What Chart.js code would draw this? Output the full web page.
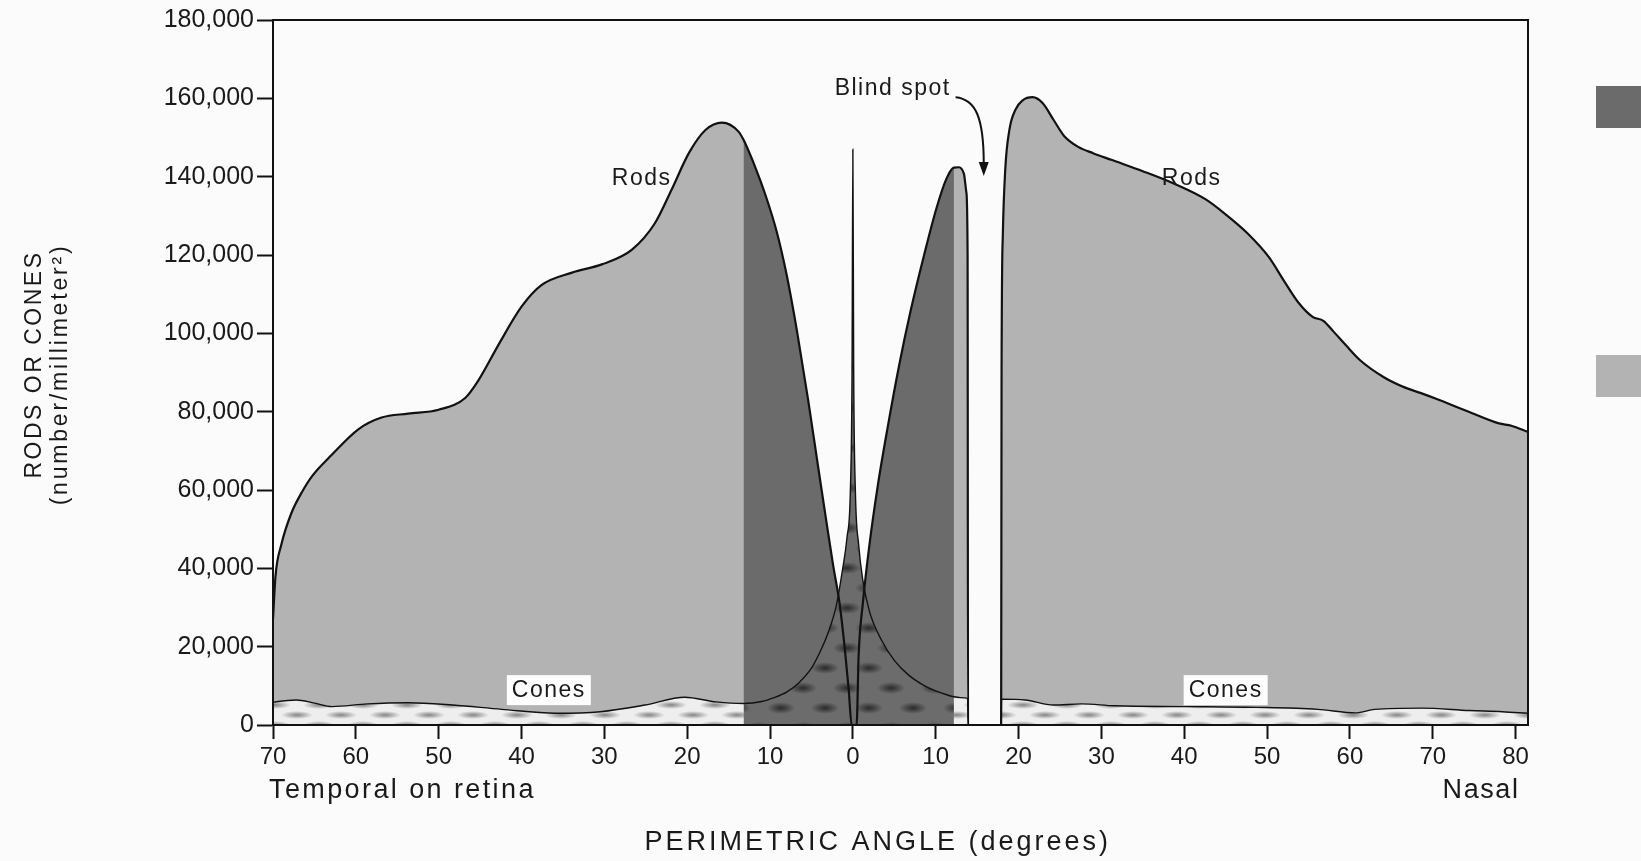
<!DOCTYPE html>
<html>
<head>
<meta charset="utf-8">
<script src="https://cdn.jsdelivr.net/npm/chart.js@4.4.1/dist/chart.umd.min.js"></script>
<style>
  html, body { margin: 0; padding: 0; background: #fbfbfb; }
  canvas { display: block; }
</style>
</head>
<body>
<canvas id="retina" width="1641" height="861"></canvas>
<script>
// perimetric angle in degrees: negative = temporal, positive = nasal
const rodAngles = [
  -70, -69.7, -69, -67.8, -66.5, -65.3, -62.9, -59.7, -56.9, -53.7, -50, -46.8, -45.2, -42.8,
  -40, -37.6, -33.9, -30.3, -26.7, -23.9, -21.9, -19.8, -17.8, -15.8, -13.8, -13.2, -11.8,
  -10.5, -9.2, -8, -6.7, -5.4, -4.2, -3.2, -2.4, -1.6, -1, -0.5, -0.15,
  0.45, 0.7, 1.2, 2, 3, 4.2, 5.6, 7, 8.6, 10.1, 11.3, 12.2, 12.8, 13.4, 13.7, 13.85, 13.9,
  17.9, 17.95, 18.1, 18.4, 18.9, 19.6, 20.5, 21.7, 22.9, 24.2, 25.5, 27.2, 29, 31.2, 35,
  38.8, 42.6, 45.1, 47.6, 50.2, 52.1, 53.8, 55.5, 56.8, 58, 59.5, 61.2, 64.1, 66.6, 68.5,
  70.4, 74.2, 78, 79.5, 81.5
];
const rodDensity = [
  27000, 38000, 46000, 54000, 59500, 63500, 69000, 75500, 78500, 79500, 80500, 83500, 88000, 97000,
  106800, 112300, 115500, 117600, 121300, 128100, 136600, 146000, 151900, 153800, 151500, 149400, 142500,
  135000, 126000, 115000, 100000, 83000, 66000, 52000, 41000, 31000, 20000, 9000, 0,
  0, 18000, 31000, 46000, 61000, 76000, 92000, 106000, 120000, 132000, 139500, 142300, 142400, 140800, 136000, 120000, 0,
  0, 90000, 125000, 142000, 152000, 157000, 159500, 160300, 158800, 154600, 150400, 147600, 146000, 144300, 141400,
  138200, 134200, 130200, 125600, 119500, 113200, 107800, 104200, 103200, 100500, 97000, 93200, 88800, 86200, 84800,
  83300, 80100, 77000, 76400, 74800
];

const coneAngles = [
  -70, -69.6, -67.2, -65, -62.9, -58.6, -53.7, -48.3, -42.4, -35.9, -30.5, -25.1, -20.3, -16.5,
  -13.2, -11, -9.5, -8, -6.5, -5, -4, -3, -2, -1.3, -0.7, -0.3, -0.1, 0, 0.1, 0.3, 0.7, 1.2,
  2, 3.5, 5, 6.7, 8.5, 10, 11.5, 12.2, 13, 13.85, 13.9,
  17.9, 17.95, 20.8, 24.2, 27.6, 31.6, 40.2, 48.7, 56.1, 60.7, 63, 68.7, 74.4, 78.4, 81.5
];
const coneDensity = [
  5800, 5950, 6400, 5600, 4700, 5400, 5700, 5100, 4000, 3000, 3400, 5100, 7100, 5900,
  5500, 6000, 7000, 8400, 10800, 14500, 18500, 23500, 30500, 39000, 48000, 60000, 90000, 147000, 90000, 60000, 46000, 37000,
  29000, 21500, 16500, 12800, 10200, 8700, 7600, 7200, 7000, 6800, 0,
  0, 6600, 6400, 5100, 5400, 4900, 4700, 4500, 4000, 3100, 4000, 4300, 3700, 3400, 3000
];

const xTickValues = [-70, -60, -50, -40, -30, -20, -10, 0, 10, 20, 30, 40, 50, 60, 70, 80];
const yTickStep = 20000;
const darkBand = [-13.2, 12.2];

const fam = "'Liberation Sans', Arial, Helvetica, sans-serif";
Chart.defaults.font.family = fam;

const canvas = document.getElementById('retina');
const ctx = canvas.getContext('2d');

function blobPattern(w, h, bg, rgb, blobs, rx, ry) {
  const c = document.createElement('canvas');
  c.width = w; c.height = h;
  const g = c.getContext('2d');
  g.fillStyle = bg;
  g.fillRect(0, 0, w, h);
  for (const [cx, cy] of blobs) {
    for (const dx of [-w, 0, w]) {
      for (const dy of [-h, 0, h]) {
        g.save();
        g.translate(cx + dx, cy + dy);
        g.scale(rx / ry, 1);
        const grd = g.createRadialGradient(0, 0, 0, 0, 0, ry);
        grd.addColorStop(0, `rgba(${rgb},0.9)`);
        grd.addColorStop(1, `rgba(${rgb},0)`);
        g.fillStyle = grd;
        g.beginPath();
        g.arc(0, 0, ry, 0, Math.PI * 2);
        g.fill();
        g.restore();
      }
    }
  }
  return ctx.createPattern(c, 'repeat');
}

const lightCones = blobPattern(44, 20, '#eeeeee', '120,120,120', [[11, 5], [33, 15]], 16, 4);
const darkCones = blobPattern(44, 40, '#6c6c6c', '35,35,35', [[11, 8], [33, 28]], 14, 6);

const toPoints = (xs, ys) => xs.map((x, i) => ({ x: x, y: ys[i] }));
const inBand = p => p.x >= darkBand[0] && p.x <= darkBand[1];
const rodPts = toPoints(rodAngles, rodDensity);
const conePts = toPoints(coneAngles, coneDensity);

const clear = 'rgba(0,0,0,0)';

function label(c, text, px, py, size, spacing, align) {
  c.font = size + 'px ' + fam;
  c.letterSpacing = spacing + 'px';
  c.textAlign = align || 'center';
  c.textBaseline = 'middle';
  c.fillStyle = '#1a1a1a';
  c.fillText(text, px, py);
}

const decorations = {
  id: 'decorations',
  afterDraw(chart) {
    const { ctx: c, chartArea: a, scales: { x, y } } = chart;
    c.save();
    c.strokeStyle = '#111';
    c.lineWidth = 2;
    c.strokeRect(a.left, a.top, a.right - a.left, a.bottom - a.top);

    label(c, 'Rods', x.getPixelForValue(-25.5), y.getPixelForValue(139600), 23, 1.5);
    label(c, 'Rods', x.getPixelForValue(40.9), y.getPixelForValue(139600), 23, 1.5);
    label(c, 'Blind spot', x.getPixelForValue(4.8), y.getPixelForValue(162400), 23, 1.5);

    // arrow to blind spot
    const sx = x.getPixelForValue(12.4), sy = y.getPixelForValue(160300);
    const tx = x.getPixelForValue(15.8), ty = y.getPixelForValue(140200);
    c.beginPath();
    c.moveTo(sx, sy);
    c.bezierCurveTo(sx + 20, sy + 2, tx, sy + 20, tx, ty - 12);
    c.lineWidth = 2;
    c.stroke();
    c.beginPath();
    c.moveTo(tx, ty);
    c.lineTo(tx - 5, ty - 14);
    c.lineTo(tx + 5, ty - 14);
    c.closePath();
    c.fillStyle = '#111';
    c.fill();

    for (const cx of [-36.7, 45]) {
      const px = x.getPixelForValue(cx), py = y.getPixelForValue(8900);
      c.fillStyle = '#fdfdfd';
      c.fillRect(px - 42, py - 15, 84, 30);
      label(c, 'Cones', px, py + 1, 23, 1.5);
    }

    label(c, 'Temporal on retina', a.left - 4, a.bottom + 66, 27, 2.4, 'left');
    label(c, 'Nasal', x.getPixelForValue(80) + 4, a.bottom + 66, 27, 1.6, 'right');
    label(c, 'PERIMETRIC ANGLE (degrees)', x.getPixelForValue(3), a.bottom + 118, 27, 3);

    const midY = (a.top + a.bottom) / 2;
    c.save();
    c.translate(35, midY - 8);
    c.rotate(-Math.PI / 2);
    label(c, 'RODS OR CONES', 0, 0, 23, 2.5);
    c.restore();
    c.save();
    c.translate(61, midY + 2);
    c.rotate(-Math.PI / 2);
    label(c, '(number/millimeter\u00B2)', 0, 0, 23, 2.8);
    c.restore();

    // key squares at the right edge
    c.fillStyle = '#6b6b6b';
    c.fillRect(1596, 86, 45, 42);
    c.fillStyle = '#b3b3b3';
    c.fillRect(1596, 355, 45, 42);
    c.letterSpacing = '0px';
    c.restore();
  }
};

new Chart(ctx, {
  type: 'line',
  data: {
    datasets: [
      { label: 'Rods', data: rodPts, borderColor: '#111', borderWidth: 2.2, fill: false, order: 0 },
      { label: 'Cones', data: conePts, borderColor: '#111', borderWidth: 1.4, fill: false, order: 0 },
      { label: 'Cones central', data: conePts.filter(inBand), borderColor: clear, borderWidth: 1, backgroundColor: darkCones, fill: 'origin', order: 1 },
      { label: 'Cones peripheral', data: conePts, borderColor: clear, borderWidth: 1, backgroundColor: lightCones, fill: 'origin', order: 2 },
      { label: 'Rods central', data: rodPts.filter(inBand), borderColor: clear, borderWidth: 1, backgroundColor: '#6b6b6b', fill: 'origin', order: 3 },
      { label: 'Rods peripheral', data: rodPts, borderColor: clear, borderWidth: 1, backgroundColor: '#b3b3b3', fill: 'origin', order: 4 }
    ]
  },
  options: {
    responsive: false,
    animation: false,
    events: [],
    elements: {
      point: { radius: 0 },
      line: { cubicInterpolationMode: 'monotone' }
    },
    layout: { padding: { left: 0, top: 20, right: 113, bottom: 0 } },
    plugins: {
      legend: { display: false },
      tooltip: { enabled: false }
    },
    scales: {
      x: {
        type: 'linear',
        min: -70,
        max: 81.5,
        afterBuildTicks: s => { s.ticks = xTickValues.map(v => ({ value: v })); },
        afterFit: s => { s.height = 136; },
        ticks: {
          callback: v => Math.abs(v),
          color: '#1a1a1a',
          font: { size: 24 },
          padding: 4,
          maxRotation: 0,
          autoSkip: false
        },
        grid: { drawOnChartArea: false, drawTicks: true, tickLength: 14, tickWidth: 2, tickColor: '#111' },
        border: { display: true, color: '#111', width: 2 }
      },
      y: {
        min: 0,
        max: 180000,
        afterFit: s => { s.width = 273; },
        ticks: {
          stepSize: yTickStep,
          callback: v => v.toLocaleString('en-US'),
          color: '#1a1a1a',
          font: { size: 25 },
          padding: 3
        },
        grid: { drawOnChartArea: false, drawTicks: true, tickLength: 16, tickWidth: 2, tickColor: '#111' },
        border: { display: true, color: '#111', width: 2 }
      }
    }
  },
  plugins: [decorations]
});
</script>
</body>
</html>
